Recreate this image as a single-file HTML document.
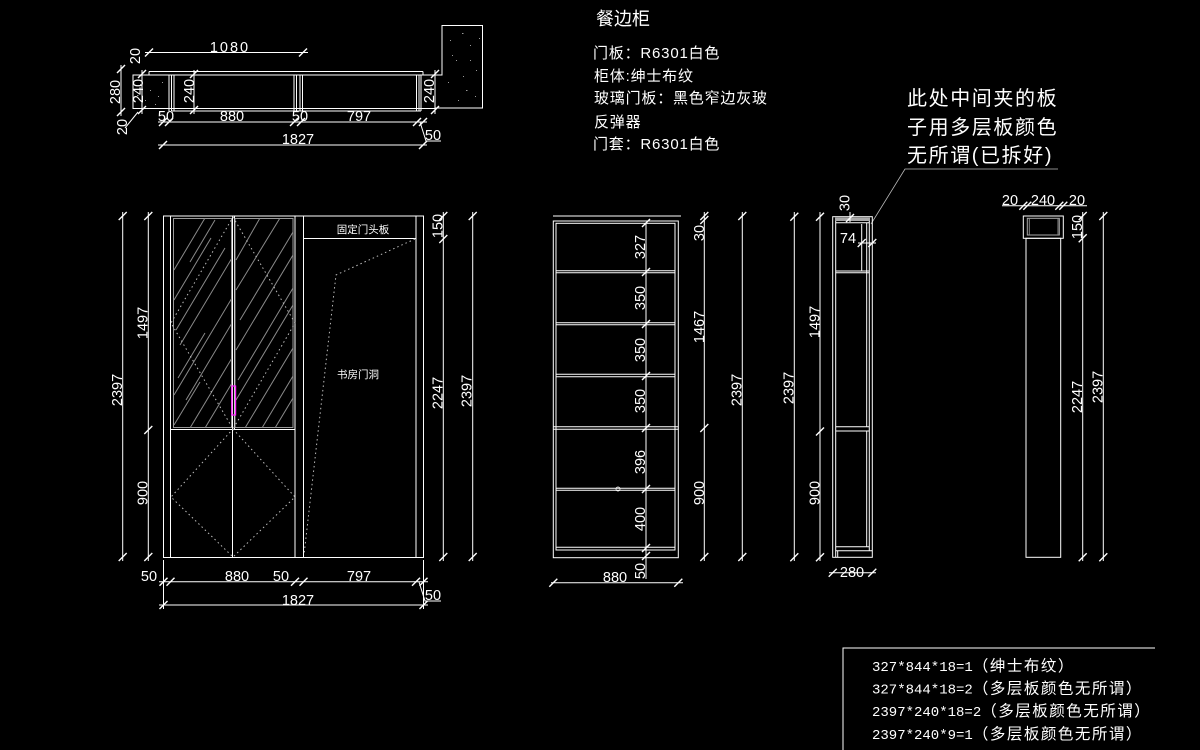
<!DOCTYPE html>
<html><head><meta charset="utf-8"><style>
html,body{margin:0;padding:0;background:#000;}
svg{display:block;}
.d{font-family:"Liberation Sans",sans-serif;font-size:14.5px;fill:#fff;}
.c{font-family:"Liberation Sans","Noto Sans CJK SC",sans-serif;fill:#fff;}
</style></head><body>
<svg width="1200" height="750" viewBox="0 0 1200 750" xmlns="http://www.w3.org/2000/svg">
<defs>
<path id="t" d="M-4 4L4 -4" stroke="#fff" stroke-width="1.4"/>
<clipPath id="gl"><rect x="173.5" y="218.5" width="58" height="209"/></clipPath>
<clipPath id="gr"><rect x="235" y="218.5" width="58" height="209"/></clipPath>
</defs>
<rect width="1200" height="750" fill="#000"/>

<!-- ================= TOP TEXT ================= -->
<text class="c" x="596" y="25" font-size="18">餐边柜</text>
<g class="c" font-size="15" letter-spacing="0.8">
<text x="593" y="58">门板：R6301白色</text>
<text x="594" y="81">柜体:绅士布纹</text>
<text x="594" y="103">玻璃门板：黑色窄边灰玻</text>
<text x="594" y="127">反弹器</text>
<text x="593" y="149">门套：R6301白色</text>
</g>
<g class="c" font-size="20" letter-spacing="1.6">
<text x="907" y="105">此处中间夹的板</text>
<text x="907" y="134">子用多层板颜色</text>
<text x="907" y="162">无所谓(已拆好)</text>
</g>
<path d="M1058 169H905L871 224" stroke="#bbb" fill="none" stroke-width="0.8"/>

<!-- ================= PLAN VIEW ================= -->
<g stroke="#fff" fill="none" stroke-width="1">
<path d="M149 71.5H423M149 71.5V75M423 71.5V75"/>
<rect x="133" y="75" width="302" height="33.5"/>
<path d="M172 111H421"/>
<path d="M169 75V111M171.5 75V111M174 75V111"/>
<path d="M294 75V111M296.5 75V111M300 75V111M302.5 75V111"/>
<path d="M416.5 75V111M419 75V111M421 75V111"/>
<path d="M435 75H442V25.5H482.5V108H435"/>
</g>
<g fill="#999">
<rect x="140" y="84" width="1" height="1"/><rect x="150" y="90" width="1" height="1"/><rect x="145" y="100" width="1" height="1"/><rect x="158" y="96" width="1" height="1"/><rect x="162" y="82" width="1" height="1"/><rect x="137" y="95" width="1.5" height="1"/><rect x="155" y="104" width="1" height="1"/>
<rect x="450" y="40" width="1" height="1"/><rect x="462" y="33" width="1.5" height="1"/><rect x="470" y="45" width="1" height="1"/><rect x="456" y="60" width="1" height="1"/><rect x="476" y="70" width="1" height="1"/><rect x="448" y="82" width="1" height="1"/><rect x="466" y="90" width="1.5" height="1"/><rect x="458" y="100" width="1" height="1"/><rect x="475" y="96" width="1" height="1"/><rect x="452" y="55" width="1" height="1"/><rect x="470" y="60" width="1" height="1"/><rect x="479" y="38" width="1" height="1"/><rect x="463" y="76" width="1" height="1"/>
</g>
<!-- plan dims -->
<g stroke="#fff" stroke-width="1">
<path d="M145 52.5H308"/>
<path d="M121 65V116"/>
<path d="M142 70V114"/>
<path d="M194 70V114"/>
<path d="M435 70V114"/>
<path d="M158 122H427"/>
<path d="M158 145H427"/>
<path d="M420 122L426 141H441"/>
<path d="M125 128L138 112"/>
</g>
<g>
<use href="#t" x="149" y="52.5"/><use href="#t" x="303" y="52.5"/>
<use href="#t" x="121" y="69"/><use href="#t" x="121" y="112"/>
<use href="#t" x="142" y="74"/><use href="#t" x="142" y="110"/>
<use href="#t" x="194" y="74"/><use href="#t" x="194" y="110"/>
<use href="#t" x="435" y="74"/><use href="#t" x="435" y="110"/>
<use href="#t" x="163" y="122"/><use href="#t" x="169" y="122"/><use href="#t" x="294" y="122"/><use href="#t" x="301" y="122"/><use href="#t" x="417" y="122"/><use href="#t" x="423" y="122"/>
<use href="#t" x="163" y="145"/><use href="#t" x="423" y="145"/>
</g>
<g class="d" text-anchor="middle">
<text x="230" y="52" letter-spacing="2">1080</text>
<text x="166" y="121">50</text>
<text x="232" y="121">880</text>
<text x="300" y="121">50</text>
<text x="359" y="121">797</text>
<text x="298" y="144">1827</text>
<text x="433" y="140">50</text>
<text transform="translate(140 56) rotate(-90)">20</text>
<text transform="translate(120 92) rotate(-90)">280</text>
<text transform="translate(143 91) rotate(-90)">240</text>
<text transform="translate(127 127) rotate(-90)">20</text>
<text transform="translate(194 91) rotate(-90)">240</text>
<text transform="translate(434 91) rotate(-90)">240</text>
</g>

<!-- ================= FRONT ELEVATION ================= -->
<g stroke="#fff" fill="none" stroke-width="1">
<rect x="163.5" y="216" width="260" height="341.5"/>
<path d="M170.5 216V557.5M416 216V557.5M295 216V557.5M303.5 216V557.5"/>
<path d="M232.5 216V557.5M234.5 216V429"/>
<path d="M170.5 429.5H295"/>
<path d="M303.5 238.5H416"/>
</g>
<g stroke="#999" fill="none" stroke-width="1">
<rect x="173.5" y="218.5" width="58" height="209"/>
<rect x="235" y="218.5" width="58" height="209"/>
</g>
<g stroke="#8a8a8a" stroke-width="1" clip-path="url(#gl)">
<path d="M174 300L211 238M176 330L225 248M180 345L232 258M174 395L232 298M186 400L232 323M174 425L200 382M190 428L232 358M205 428L232 383M174 270L205 218M190 262L215 220M178 378L205 333"/>
</g>
<g stroke="#8a8a8a" stroke-width="1" clip-path="url(#gr)">
<path d="M236 290L280 218M240 320L293 232M236 350L293 255M250 360L293 288M236 400L293 305M245 428L293 348M262 428L293 376M236 260L260 218M275 428L293 398M238 380L268 330"/>
</g>
<g stroke="#bbb" stroke-width="1" fill="none" stroke-dasharray="1.5 3">
<path d="M233 217L295 323L233 429L171 323Z"/>
<path d="M233 429L295 497L233 557L171 497Z"/>
<path d="M415 239L336 275L304 555"/>
</g>
<rect x="231.8" y="386" width="3.8" height="29" fill="none" stroke="#ff20ff" stroke-width="1.2"/>
<text class="c" x="363" y="233" font-size="10.5" text-anchor="middle">固定门头板</text>
<text class="c" x="358" y="378" font-size="10.5" text-anchor="middle">书房门洞</text>
<!-- front dims -->
<g stroke="#fff" stroke-width="1">
<path d="M122.7 212V561M148.3 212V561M443.3 212V561M472.7 212V561"/>
<path d="M159 581.7H428M159 605H428"/>
<path d="M419 582L425 601H441"/>
<path d="M163.5 560V609M423.5 560V609"/>
</g>
<g>
<use href="#t" x="122.7" y="216"/><use href="#t" x="122.7" y="557"/>
<use href="#t" x="148.3" y="216"/><use href="#t" x="148.3" y="430"/><use href="#t" x="148.3" y="557"/>
<use href="#t" x="443.3" y="216"/><use href="#t" x="443.3" y="239"/><use href="#t" x="443.3" y="557"/>
<use href="#t" x="472.7" y="216"/><use href="#t" x="472.7" y="557"/>
<use href="#t" x="163.5" y="581.7"/><use href="#t" x="170.5" y="581.7"/><use href="#t" x="295" y="581.7"/><use href="#t" x="303.5" y="581.7"/><use href="#t" x="416" y="581.7"/><use href="#t" x="423.5" y="581.7"/>
<use href="#t" x="163.5" y="605"/><use href="#t" x="423.5" y="605"/>
</g>
<g class="d" text-anchor="middle">
<text x="149" y="581">50</text>
<text x="237" y="581">880</text>
<text x="281" y="581">50</text>
<text x="359" y="581">797</text>
<text x="298" y="605">1827</text>
<text x="433" y="600">50</text>
<text transform="translate(122 390) rotate(-90)">2397</text>
<text transform="translate(147.5 323) rotate(-90)">1497</text>
<text transform="translate(147.5 493) rotate(-90)">900</text>
<text transform="translate(442.5 226) rotate(-90)">150</text>
<text transform="translate(442.5 393) rotate(-90)">2247</text>
<text transform="translate(471.5 391) rotate(-90)">2397</text>
</g>

<!-- ================= MIDDLE ELEVATION ================= -->
<g stroke="#fff" fill="none" stroke-width="1">
<path d="M553 216H681"/>
<rect x="553.3" y="221" width="125" height="336.7"/>
<rect x="556" y="223.3" width="119" height="326.7"/>
<path d="M556 270.7H675M556 272.7H675"/>
<path d="M556 322.7H675M556 324.7H675"/>
<path d="M556 374.3H675M556 376.7H675"/>
<path d="M553.3 426.7H678.3M553.3 429.3H678.3"/>
<path d="M556 488.3H675M556 490.3H675"/>
<path d="M556 547.3H675"/>
</g>
<circle cx="618" cy="489" r="2" fill="none" stroke="#fff" stroke-width="0.8"/>
<g stroke="#fff" stroke-width="1">
<path d="M646 223V579"/>
<path d="M704.3 212V561M742.3 212V561"/>
<path d="M551 582.7H683"/>
</g>
<g>
<use href="#t" x="646" y="223"/><use href="#t" x="646" y="272"/><use href="#t" x="646" y="324"/><use href="#t" x="646" y="376"/><use href="#t" x="646" y="428"/><use href="#t" x="646" y="489"/><use href="#t" x="646" y="548"/><use href="#t" x="646" y="556"/>
<use href="#t" x="704.3" y="216"/><use href="#t" x="704.3" y="220"/><use href="#t" x="704.3" y="428"/><use href="#t" x="704.3" y="557"/>
<use href="#t" x="742.3" y="216"/><use href="#t" x="742.3" y="557"/>
<use href="#t" x="553.3" y="582.7"/><use href="#t" x="678.3" y="582.7"/>
</g>
<g class="d" text-anchor="middle">
<text transform="translate(645 247) rotate(-90)">327</text>
<text transform="translate(645 298) rotate(-90)">350</text>
<text transform="translate(645 350) rotate(-90)">350</text>
<text transform="translate(645 401) rotate(-90)">350</text>
<text transform="translate(645 462) rotate(-90)">396</text>
<text transform="translate(645 519) rotate(-90)">400</text>
<text transform="translate(645 571) rotate(-90)">50</text>
<text transform="translate(704 233) rotate(-90)">30</text>
<text transform="translate(704 327) rotate(-90)">1467</text>
<text transform="translate(704 493) rotate(-90)">900</text>
<text transform="translate(741.5 390) rotate(-90)">2397</text>
<text x="615" y="582">880</text>
</g>

<!-- ================= SIDE VIEW ================= -->
<g stroke="#fff" fill="none" stroke-width="1">
<rect x="832.7" y="216.7" width="39.6" height="340.6"/>
<path d="M835.7 221V557.3M869.3 221V550.7"/>
<path d="M866.7 222.7V426.7M866.7 431V546.7"/>
<path d="M861.7 224V271"/>
<path d="M835.7 222.7H869.3M835.7 271H869.3M835.7 272.7H869.3"/>
<path d="M835.7 426.7H869.3M835.7 431H869.3"/>
<path d="M835.7 546.7H869.3M835.7 550.7H872.3"/>
<path d="M837.7 550.7V557.3"/>
</g>
<rect x="835" y="217.5" width="35" height="3.5" fill="#aaa"/>
<g stroke="#fff" stroke-width="1">
<path d="M794.3 212V561M820 212V561"/>
<path d="M858 243H876"/>
<path d="M829 572.7H876"/>
<path d="M850 212V222"/>
</g>
<g>
<use href="#t" x="794.3" y="216.7"/><use href="#t" x="794.3" y="557.3"/>
<use href="#t" x="820" y="216.7"/><use href="#t" x="820" y="431.5"/><use href="#t" x="820" y="557.3"/>
<use href="#t" x="850" y="218"/>
<use href="#t" x="861.7" y="243"/><use href="#t" x="872.3" y="243"/>
<use href="#t" x="832.7" y="572.7"/><use href="#t" x="872.3" y="572.7"/>
</g>
<g class="d" text-anchor="middle">
<text transform="translate(793.5 388) rotate(-90)">2397</text>
<text transform="translate(819.5 322) rotate(-90)">1497</text>
<text transform="translate(819.5 493) rotate(-90)">900</text>
<text transform="translate(849.5 203) rotate(-90)">30</text>
<text x="848" y="243">74</text>
<text x="852" y="577">280</text>
</g>

<!-- ================= RIGHT VIEW ================= -->
<g stroke="#fff" fill="none" stroke-width="1">
<rect x="1023.3" y="216" width="40" height="22.3"/>
<rect x="1026" y="238.3" width="34.7" height="319"/>
</g>
<rect x="1027.3" y="218.3" width="32" height="16.7" fill="none" stroke="#aaa" stroke-width="1"/>
<path d="M1029.3 218.3V235M1058 218.3V235" stroke="#888" stroke-width="1"/>
<g stroke="#fff" stroke-width="1">
<path d="M1002 205.7H1087"/>
<path d="M1082.7 212V561M1103.3 212V561"/>
</g>
<g>
<use href="#t" x="1023.3" y="205.7"/><use href="#t" x="1027.3" y="205.7"/><use href="#t" x="1059.3" y="205.7"/><use href="#t" x="1063.3" y="205.7"/>
<use href="#t" x="1082.7" y="216"/><use href="#t" x="1082.7" y="238.3"/><use href="#t" x="1082.7" y="557.3"/>
<use href="#t" x="1103.3" y="216"/><use href="#t" x="1103.3" y="557.3"/>
</g>
<g class="d" text-anchor="middle">
<text x="1010" y="205">20</text>
<text x="1043" y="205">240</text>
<text x="1077" y="205">20</text>
<text transform="translate(1082 227) rotate(-90)">150</text>
<text transform="translate(1082 397) rotate(-90)">2247</text>
<text transform="translate(1102.5 387) rotate(-90)">2397</text>
</g>

<!-- ================= TABLE ================= -->
<path d="M1155 648H843V750" stroke="#fff" fill="none" stroke-width="1"/>
<g font-family="'Liberation Mono','Noto Sans CJK SC',monospace" font-size="14" fill="#fff">
<text x="872" y="671">327*844*18=1<tspan font-family="'Noto Sans CJK SC',sans-serif" font-size="15.5" letter-spacing="1.5">（绅士布纹）</tspan></text>
<text x="872" y="693.5">327*844*18=2<tspan font-family="'Noto Sans CJK SC',sans-serif" font-size="15.5" letter-spacing="1.5">（多层板颜色无所谓）</tspan></text>
<text x="872" y="716">2397*240*18=2<tspan font-family="'Noto Sans CJK SC',sans-serif" font-size="15.5" letter-spacing="1.5">（多层板颜色无所谓）</tspan></text>
<text x="872" y="739">2397*240*9=1<tspan font-family="'Noto Sans CJK SC',sans-serif" font-size="15.5" letter-spacing="1.5">（多层板颜色无所谓）</tspan></text>
</g>
</svg>
</body></html>
